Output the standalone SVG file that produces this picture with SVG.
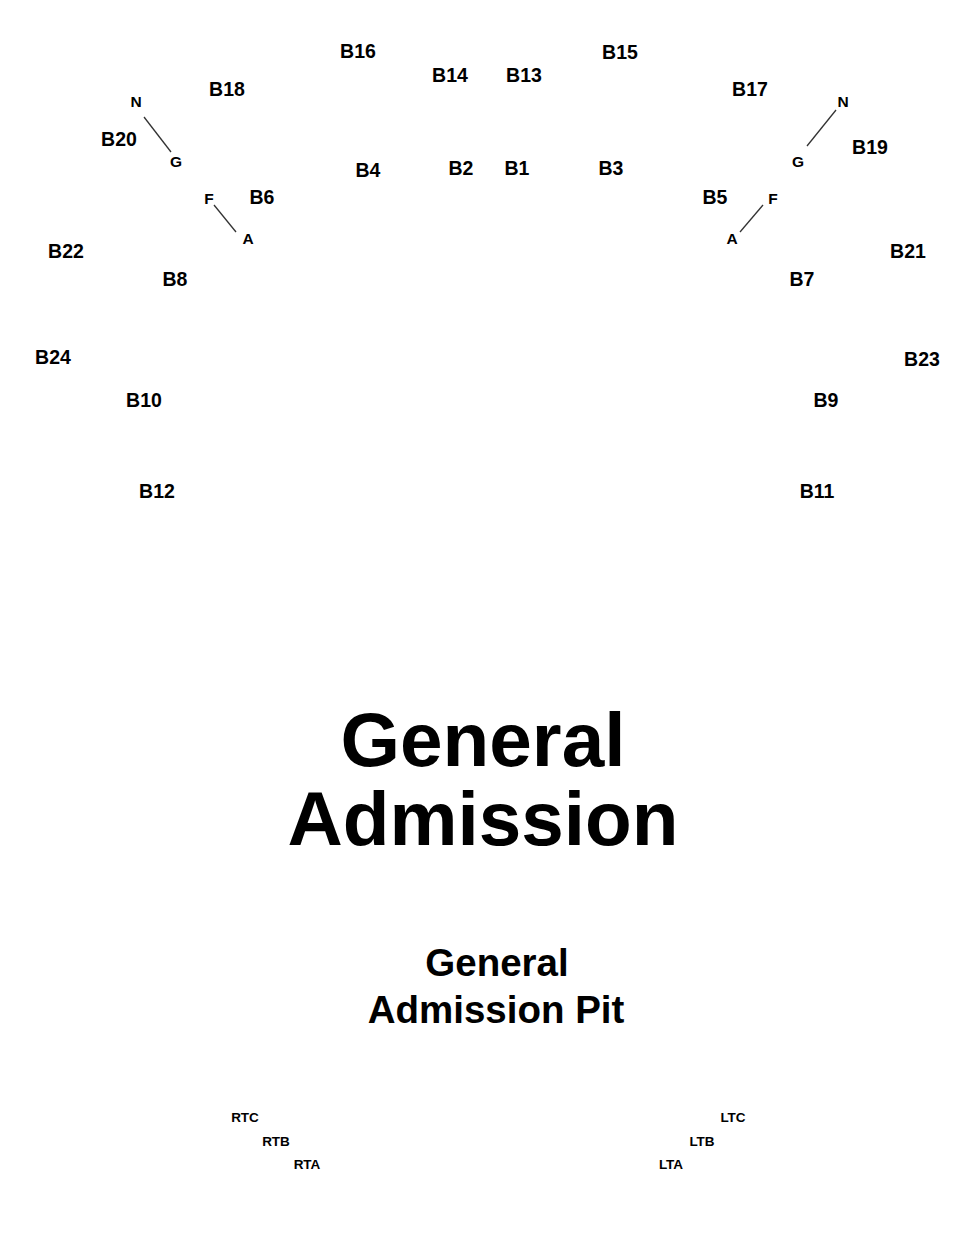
<svg xmlns="http://www.w3.org/2000/svg" width="980" height="1238" viewBox="0 0 980 1238">
<style>
text{font-family:"Liberation Sans",Arial,sans-serif;font-weight:bold;fill:#000;text-anchor:middle}
.b{font-size:19.5px}
.r{font-size:15.5px}
.s{font-size:13.5px}
.big{font-size:76.5px}
.mid{font-size:38.5px}
.ln{stroke:#333;stroke-width:1.3;fill:none}
</style>
<rect width="980" height="1238" fill="#fff"/>
<g id="connectors">
<line class="ln" x1="144" y1="117" x2="171" y2="152"/>
<line class="ln" x1="214" y1="205" x2="236" y2="232"/>
<line class="ln" x1="836" y1="110" x2="807" y2="146"/>
<line class="ln" x1="763" y1="205" x2="740" y2="232"/>
</g>
<g id="B16"><text class="b" x="358" y="58">B16</text></g>
<g id="B14"><text class="b" x="450" y="82">B14</text></g>
<g id="B13"><text class="b" x="524" y="82">B13</text></g>
<g id="B15"><text class="b" x="620" y="59">B15</text></g>
<g id="B18"><text class="b" x="227" y="96">B18</text></g>
<g id="B17"><text class="b" x="750" y="96">B17</text></g>
<g id="N-left"><text class="r" x="136" y="107">N</text></g>
<g id="N-right"><text class="r" x="843" y="107">N</text></g>
<g id="B20"><text class="b" x="119" y="146">B20</text></g>
<g id="G-left"><text class="r" x="176" y="167">G</text></g>
<g id="B19"><text class="b" x="870" y="154">B19</text></g>
<g id="G-right"><text class="r" x="798" y="167">G</text></g>
<g id="B4"><text class="b" x="368" y="177">B4</text></g>
<g id="B2"><text class="b" x="461" y="175">B2</text></g>
<g id="B1"><text class="b" x="517" y="175">B1</text></g>
<g id="B3"><text class="b" x="611" y="175">B3</text></g>
<g id="F-left"><text class="r" x="209" y="204">F</text></g>
<g id="B6"><text class="b" x="262" y="204">B6</text></g>
<g id="B5"><text class="b" x="715" y="204">B5</text></g>
<g id="F-right"><text class="r" x="773" y="204">F</text></g>
<g id="A-left"><text class="r" x="248" y="244">A</text></g>
<g id="A-right"><text class="r" x="732" y="244">A</text></g>
<g id="B22"><text class="b" x="66" y="258">B22</text></g>
<g id="B21"><text class="b" x="908" y="258">B21</text></g>
<g id="B8"><text class="b" x="175" y="286">B8</text></g>
<g id="B7"><text class="b" x="802" y="286">B7</text></g>
<g id="B24"><text class="b" x="53" y="364">B24</text></g>
<g id="B23"><text class="b" x="922" y="366">B23</text></g>
<g id="B10"><text class="b" x="144" y="407">B10</text></g>
<g id="B9"><text class="b" x="826" y="407">B9</text></g>
<g id="B12"><text class="b" x="157" y="498">B12</text></g>
<g id="B11"><text class="b" x="817" y="498">B11</text></g>
<g id="GA"><text class="big" x="483" y="766">General</text><text class="big" x="483" y="845">Admission</text></g>
<g id="GAPit"><text class="mid" x="497" y="976">General</text><text class="mid" x="496" y="1023">Admission Pit</text></g>
<g id="RTC"><text class="s" x="245" y="1122">RTC</text></g>
<g id="RTB"><text class="s" x="276" y="1146">RTB</text></g>
<g id="RTA"><text class="s" x="307" y="1169">RTA</text></g>
<g id="LTC"><text class="s" x="733" y="1122">LTC</text></g>
<g id="LTB"><text class="s" x="702" y="1146">LTB</text></g>
<g id="LTA"><text class="s" x="671" y="1169">LTA</text></g>
</svg>
